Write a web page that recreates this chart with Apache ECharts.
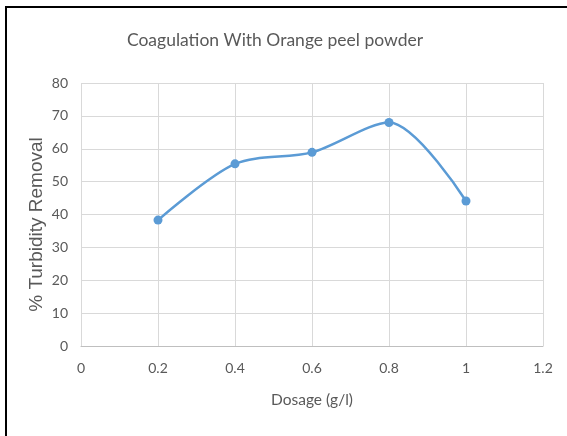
<!DOCTYPE html>
<html>
<head>
<meta charset="utf-8">
<script src="https://cdn.jsdelivr.net/npm/echarts@6/dist/echarts.min.js"></script>
<style>
html,body{margin:0;padding:0;background:#fff;}
#chart{position:absolute;left:0;top:0;width:567px;height:436px;}
#frame{position:absolute;left:5px;top:6px;width:562px;height:428px;border-top:2px solid #000;border-left:2px solid #000;border-bottom:1px solid #e0e0e0;pointer-events:none;}
</style>
</head>
<body>
<div id="chart"></div>
<div id="frame"></div>
<script>
var titleText = "Coagulation With Orange peel powder";
var xAxisName = "Dosage (g/l)";
var yAxisName = "% Turbidity Removal";
var dosage = [0.2, 0.4, 0.6, 0.8, 1.0];
var removal = [38.3, 55.4, 58.9, 68.0, 44.1];
var xTicks = [0, 0.2, 0.4, 0.6, 0.8, 1, 1.2];
var yTicks = [0, 10, 20, 30, 40, 50, 60, 70, 80];

var chart = echarts.init(document.getElementById('chart'), null, {renderer: 'canvas'});
var labelFont = 'Lato, sans-serif';
chart.setOption({
  backgroundColor: '#ffffff',
  animation: false,
  title: {
    text: titleText,
    left: 270,
    textAlign: 'center',
    top: 26,
    textStyle: {fontFamily: labelFont, fontSize: 17.5, fontWeight: 'normal', color: '#595959'}
  },
  grid: {left: 81, right: 24, top: 83, bottom: 90, containLabel: false},
  xAxis: {
    type: 'value',
    min: xTicks[0],
    max: xTicks[xTicks.length - 1],
    interval: 0.2,
    name: xAxisName,
    nameLocation: 'middle',
    nameGap: 46,
    nameMoveOverlap: false,
    nameTextStyle: {fontFamily: labelFont, fontSize: 15.5, color: '#595959'},
    axisLine: {show: true, lineStyle: {color: '#bfbfbf', width: 1}},
    axisTick: {show: false},
    axisLabel: {
      margin: 15,
      fontFamily: labelFont, fontSize: 14, color: '#595959',
      formatter: function (v) {
        var best = xTicks.reduce(function (a, b) { return Math.abs(b - v) < Math.abs(a - v) ? b : a; });
        return String(best);
      }
    },
    splitLine: {show: true, lineStyle: {color: '#d9d9d9', width: 1}}
  },
  yAxis: {
    type: 'value',
    min: yTicks[0],
    max: yTicks[yTicks.length - 1],
    interval: 10,
    name: yAxisName,
    nameLocation: 'middle',
    nameGap: 35,
    nameMoveOverlap: false,
    nameTextStyle: {fontFamily: '"Liberation Sans", Arial, sans-serif', fontSize: 19, color: '#595959', padding: [0, 20, 0, 0]},
    axisLine: {show: false},
    axisTick: {show: false},
    axisLabel: {margin: 13, fontFamily: labelFont, fontSize: 14, color: '#595959'},
    splitLine: {show: true, lineStyle: {color: '#d9d9d9', width: 1}}
  },
  series: [{
    type: 'line',
    data: dosage.map(function (d, i) { return [d, removal[i]]; }),
    smooth: 0.3,
    symbol: 'circle',
    symbolSize: 9,
    lineStyle: {color: '#5b9bd5', width: 2.5},
    itemStyle: {color: '#5b9bd5'}
  }]
});
</script>
</body>
</html>
